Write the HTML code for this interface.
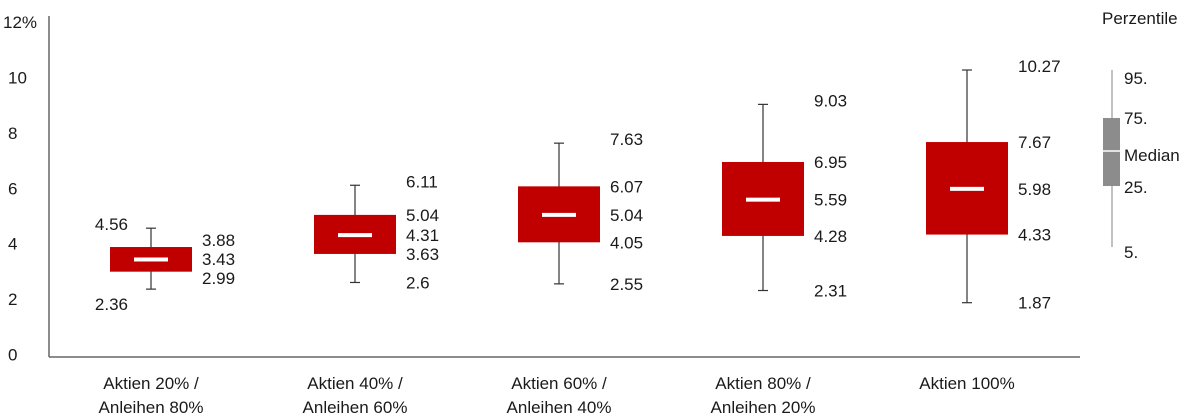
<!DOCTYPE html>
<html><head><meta charset="utf-8"><style>
body{margin:0;background:#fff;}
svg{display:block;font-family:"Liberation Sans",sans-serif;}
text{fill:#1a1a1a;font-size:17px;}
</style></head><body>
<svg id="c" width="1200" height="418"></svg>
<script>
const categories=[["Aktien 20% /","Anleihen 80%"],["Aktien 40% /","Anleihen 60%"],["Aktien 60% /","Anleihen 40%"],["Aktien 80% /","Anleihen 20%"],["Aktien 100%"]];
const p5=[2.36,2.6,2.55,2.31,1.87];
const p25=[2.99,3.63,4.05,4.28,4.33];
const median=[3.43,4.31,5.04,5.59,5.98];
const p75=[3.88,5.04,6.07,6.95,7.67];
const p95=[4.56,6.11,7.63,9.03,10.27];
const yTicks=[0,2,4,6,8,10,12];
const yTickLabels=["0","2","4","6","8","10","12%"];

const svg=document.getElementById('c');
const NS="http://www.w3.org/2000/svg";
const y0=354.5, k=27.7;
const y=v=>y0-v*k;
const x=i=>151+i*204;
function el(t,a,p){const e=document.createElementNS(NS,t);for(const n in a)e.setAttribute(n,a[n]);(p||svg).appendChild(e);return e;}

// axes
const ax=el('line',{x1:49,y1:16,x2:49,y2:357,stroke:'#666','stroke-width':1.5});


const bx=el('line',{x1:49,y1:357,x2:1080,y2:357,stroke:'#666','stroke-width':1.5});



yTicks.forEach((v,i)=>{
  const t=el('text',{x:i==6?3:8,y:y(v)+6});
  t.textContent=yTickLabels[i];
  
  
});

categories.forEach((c,i)=>{
  const g=el('g',{});
  
  
  const cx=x(i);
  el('line',{x1:cx,y1:y(p95[i]),x2:cx,y2:y(p5[i]),stroke:'#333','stroke-width':1.2},g);
  el('line',{x1:cx-5,y1:y(p95[i]),x2:cx+5,y2:y(p95[i]),stroke:'#333','stroke-width':1.2},g);
  el('line',{x1:cx-5,y1:y(p5[i]),x2:cx+5,y2:y(p5[i]),stroke:'#333','stroke-width':1.2},g);
  el('rect',{x:cx-41,y:y(p75[i]),width:82,height:y(p25[i])-y(p75[i]),fill:'#c00000'},g);
  el('rect',{x:cx-17,y:y(median[i])-2,width:34,height:4,fill:'#fff'},g);
  // labels
  let vals=[p95[i],p75[i],median[i],p25[i],p5[i]];
  let ys=vals.map(v=>y(v));
  ys[0]-=4;
  for(let j=1;j<ys.length;j++) if(ys[j]-ys[j-1]<19) ys[j]=ys[j-1]+19;
  if(i===0){ys[1]-=7;ys[2]-=7;ys[3]-=7;}
  vals.forEach((v,j)=>{
    let lx=cx+51, anchor='start';
    if(i===0&&(j===0||j===4)){lx=cx-23;anchor='end';}
    const t=el('text',{x:lx,y:ys[j]+6,'text-anchor':anchor},g);
    t.textContent=String(v);
    
    
  });
  c.forEach((line,j)=>{
    const t=el('text',{x:cx,y:389+j*24,'text-anchor':'middle'});
    t.textContent=line;
    
    
  });
});

// legend
const lg=el('g',{});


el('line',{x1:1112,y1:70,x2:1112,y2:247,stroke:'#999','stroke-width':1.2},lg);
el('rect',{x:1103,y:118,width:17,height:68,fill:'#8c8c8c'},lg);
el('line',{x1:1103,y1:151,x2:1120,y2:151,stroke:'#fff','stroke-width':1.5},lg);
[["Perzentile",1102,24],["95.",1124,84],["75.",1124,124],["Median",1124,161],["25.",1124,193],["5.",1124,258]].forEach(d=>{
  const t=el('text',{x:d[1],y:d[2],'font-size':15},lg);
  t.textContent=d[0];
  
  
});
</script>
</body></html>
